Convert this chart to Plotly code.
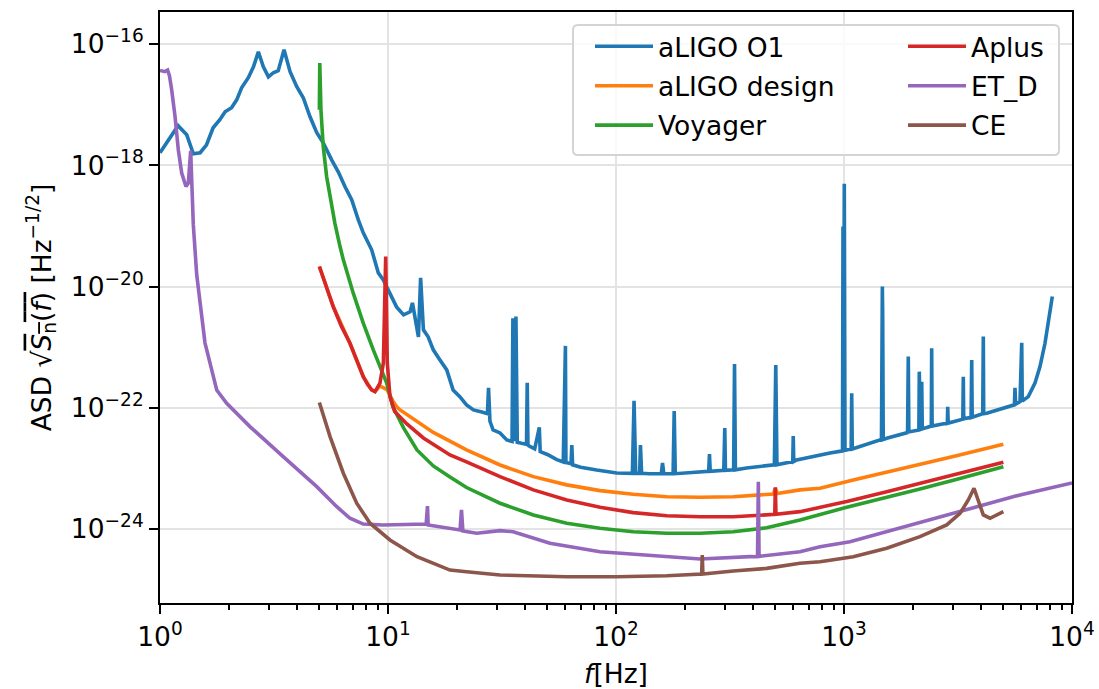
import plotly.graph_objects as go

# ---------------- detector noise curves (frequency in Hz, ASD in Hz^-1/2) ----------------
o1_freq = [
    1.00, 1.20, 1.31, 1.40, 1.50, 1.60, 1.71, 1.83, 1.93, 2.06,
    2.17, 2.28, 2.44, 2.57, 2.70, 2.84, 2.99, 3.14, 3.30, 3.50,
    3.72, 3.98, 4.25, 4.55, 4.87, 5.20, 5.66, 6.05, 6.48, 6.93,
    7.41, 7.79, 8.48, 9.07, 9.54, 10.2, 10.9, 11.7, 12.5, 12.8,
    13.1, 13.6, 13.9, 14.3, 15.0, 15.8, 16.9, 18.1, 19.3, 20.7,
    22.1, 23.7, 25.8, 27.3, 27.6, 28.0, 28.9, 31.0, 33.2, 35.0,
    35.3, 35.8, 36.4, 36.9, 38.5, 40.5, 40.8, 41.1, 44.0, 46.1,
    46.5, 50.0, 55.0, 58.7, 60.0, 60.3, 63.5, 64.0, 64.5, 70.0,
    82.3, 100.7, 118, 120, 122, 127, 128, 129.5, 140, 158,
    160, 162, 178, 180, 182, 226, 255, 257, 259, 297,
    300, 302, 328, 331, 334, 374, 495, 502, 508, 596,
    599, 602, 620, 868, 985, 990, 995, 1003, 1010, 1028,
    1075, 1081, 1087, 1460, 1473, 1478, 1486, 1539, 1900, 1914,
    1925, 2130, 2139, 2160, 2192, 2205, 2415, 2424, 2435, 2840,
    2850, 2865, 3016, 3320, 3336, 3350, 3610, 3632, 3650, 4060,
    4083, 4100, 4226, 5171, 5590, 5623, 5660, 5915, 6018, 6050,
    6432, 6880, 7238, 7613, 8008, 8197,
]
o1_asd = [
    1.61e-18, 4.49e-18, 3.18e-18, 1.55e-18, 1.61e-18, 2.18e-18, 4.16e-18, 5.64e-18, 7.64e-18, 8.89e-18,
    1.20e-17, 1.90e-17, 2.78e-17, 4.22e-17, 7.46e-17, 4.22e-17, 2.88e-17, 3.36e-17, 3.62e-17, 8.05e-17,
    3.49e-17, 1.97e-17, 1.30e-17, 6.31e-18, 3.44e-18, 2.35e-18, 1.23e-18, 7.81e-19, 4.42e-19, 2.70e-19,
    1.26e-19, 7.69e-20, 4.04e-20, 1.68e-20, 1.29e-20, 7.87e-21, 4.62e-21, 3.41e-21, 3.83e-21, 5.38e-21,
    3.16e-21, 1.48e-21, 1.39e-20, 1.93e-21, 1.48e-21, 9.04e-22, 6.17e-22, 4.22e-22, 1.97e-22, 1.51e-22,
    1.12e-22, 9.23e-23, 8.55e-23, 8.00e-23, 2.13e-22, 6.00e-23, 4.32e-23, 3.85e-23, 2.95e-23, 2.80e-23,
    3.00e-21, 2.80e-23, 3.20e-21, 2.70e-23, 2.60e-23, 2.50e-23, 2.58e-22, 2.40e-23, 2.10e-23, 4.77e-23,
    1.90e-23, 1.70e-23, 1.40e-23, 1.28e-23, 1.05e-21, 1.25e-23, 1.20e-23, 2.44e-23, 1.15e-23, 1.05e-23,
    9.44e-24, 8.43e-24, 8.30e-24, 1.30e-22, 8.30e-24, 8.30e-24, 2.44e-23, 8.30e-24, 8.20e-24, 8.20e-24,
    1.23e-23, 8.20e-24, 8.20e-24, 8.89e-23, 8.20e-24, 8.75e-24, 9.00e-24, 1.73e-23, 9.00e-24, 9.30e-24,
    4.66e-23, 9.30e-24, 9.50e-24, 5.30e-22, 9.50e-24, 1.02e-23, 1.15e-23, 5.10e-22, 1.15e-23, 1.30e-23,
    3.44e-23, 1.30e-23, 1.38e-23, 1.80e-23, 1.95e-23, 9.80e-20, 2.00e-23, 4.95e-19, 2.00e-23, 2.02e-23,
    2.10e-23, 1.74e-22, 2.10e-23, 3.00e-23, 1.00e-20, 3.60e-21, 3.00e-23, 3.15e-23, 3.90e-23, 7.00e-22,
    4.00e-23, 4.30e-23, 3.95e-22, 4.40e-23, 2.70e-22, 4.50e-23, 5.00e-23, 9.60e-22, 5.00e-23, 5.60e-23,
    1.04e-22, 5.60e-23, 5.91e-23, 6.50e-23, 3.24e-22, 6.60e-23, 7.00e-23, 6.17e-22, 7.00e-23, 8.00e-23,
    1.50e-21, 8.00e-23, 8.15e-23, 1.05e-22, 1.12e-22, 2.13e-22, 1.15e-22, 1.26e-22, 1.18e-21, 1.30e-22,
    1.53e-22, 2.55e-22, 4.79e-22, 1.16e-21, 3.64e-21, 6.84e-21,
]

design_freq = [
    5.0, 5.75, 6.81, 7.79, 8.48, 8.77, 9.22, 9.9, 10.5, 10.9,
    11.3, 15.8, 22.1, 31.0, 43.4, 60.8, 85.1, 119, 167, 234,
    327, 400, 490, 500, 510, 641, 785, 1098, 1539, 2154,
    3016, 5000,
]
design_asd = [
    2.14e-20, 4.68e-21, 1.16e-21, 3.27e-22, 1.97e-22, 1.85e-22, 2.30e-22, 2.00e-22, 1.30e-22, 1.05e-22,
    9.23e-23, 3.93e-23, 2.02e-23, 1.14e-23, 7.33e-24, 5.36e-24, 4.31e-24, 3.75e-24, 3.42e-24, 3.35e-24,
    3.42e-24, 3.66e-24, 3.80e-24, 4.71e-24, 3.85e-24, 4.43e-24, 4.71e-24, 6.46e-24, 8.65e-24, 1.16e-23,
    1.57e-23, 2.51e-23,
]

voyager_freq = [
    5.00, 5.02, 5.08, 5.20, 5.38, 5.66, 5.85, 6.16, 6.37, 7.04,
    7.79, 8.62, 9.22, 9.87, 10.5, 11.7, 13.4, 15.8, 18.7, 22.1,
    31.0, 43.4, 60.8, 85.1, 119, 167, 234, 327, 458, 641,
    1028, 1539, 2154, 3016, 5000,
]
voyager_asd = [
    8.2e-18, 4.85e-17, 8.2e-18, 2.04e-18, 6.53e-19, 2.09e-19, 1.10e-19, 4.57e-20, 2.76e-20, 7.78e-21,
    2.49e-21, 9.04e-22, 4.79e-22, 2.55e-22, 1.05e-22, 4.66e-23, 2.02e-23, 1.10e-23, 7.23e-24, 4.85e-24,
    2.67e-24, 1.71e-24, 1.25e-24, 1.03e-24, 9.06e-25, 8.53e-25, 8.53e-25, 9.06e-25, 1.05e-24, 1.41e-24,
    2.29e-24, 3.30e-24, 4.59e-24, 6.38e-24, 1.07e-23,
]

aplus_freq = [
    5.0, 5.37, 5.75, 6.25, 6.81, 7.29, 7.79, 8.13, 8.48, 8.77,
    9.22, 9.54, 9.77, 9.93, 10.2, 10.7, 12.1, 14.3, 18.7, 22.1,
    31.0, 43.4, 60.8, 85.1, 119, 167, 234, 327, 458, 497,
    500, 503, 641, 1028, 1539, 2154, 3016, 5000,
]
aplus_asd = [
    2.14e-20, 9.9e-21, 4.68e-21, 2.2e-21, 1.16e-21, 6.1e-22, 3.27e-22, 2.45e-22, 1.97e-22, 1.85e-22,
    2.55e-22, 5.45e-22, 3.13e-20, 5.45e-22, 1.53e-22, 8.65e-23, 5.42e-23, 3.18e-23, 1.67e-23, 1.28e-23,
    7.33e-24, 4.43e-24, 3.02e-24, 2.29e-24, 1.87e-24, 1.66e-24, 1.60e-24, 1.60e-24, 1.71e-24, 1.75e-24,
    4.90e-24, 1.75e-24, 1.94e-24, 2.84e-24, 4.14e-24, 5.70e-24, 7.82e-24, 1.26e-23,
]

etd_freq = [
    1.00, 1.05, 1.08, 1.10, 1.125, 1.164, 1.203, 1.245, 1.30, 1.331,
    1.363, 1.377, 1.40, 1.449, 1.50, 1.575, 1.686, 1.773, 1.961, 2.48,
    3.47, 4.87, 5.96, 6.81, 7.79, 9.5, 14.7, 14.9, 15.0, 20.7,
    21.0, 21.3, 24.5, 31.0, 35.4, 51.3, 85.1, 167, 234, 387,
    417.6, 421, 424, 641, 785, 1062, 1539, 3016, 5915, 10000,
]
etd_asd = [
    3.66e-17, 3.50e-17, 3.70e-17, 3.00e-17, 1.76e-17, 6.38e-18, 1.80e-18, 7.43e-19, 4.47e-19, 5.08e-19,
    1.73e-18, 5.08e-19, 1.04e-19, 1.56e-20, 4.99e-21, 1.18e-21, 4.22e-22, 1.97e-22, 1.19e-22, 4.90e-23,
    1.57e-23, 5.01e-24, 2.34e-24, 1.51e-24, 1.21e-24, 1.17e-24, 1.21e-24, 2.40e-24, 1.17e-24, 9.66e-25,
    2.07e-24, 9.31e-25, 8.53e-25, 9.42e-25, 9.06e-25, 5.83e-25, 4.24e-25, 3.51e-25, 3.21e-25, 3.51e-25,
    3.50e-25, 6.05e-24, 3.55e-25, 4.24e-25, 5.13e-25, 6.19e-25, 9.06e-25, 1.82e-24, 3.66e-24, 5.77e-24,
]

ce_freq = [
    5.0, 5.57, 6.37, 7.29, 8.34, 10.2, 13.4, 15.8, 18.7, 22.1,
    31.0, 60.8, 100.7, 167, 234, 237.5, 239, 240.5, 327, 458,
    641, 785, 1098, 1539, 2154, 2821, 3228, 3509, 3717, 3882,
    4083, 4369, 4676, 5000,
]
ce_asd = [
    1.22e-22, 3.35e-23, 8.34e-24, 2.67e-24, 1.25e-24, 6.61e-25, 3.51e-25, 2.73e-25, 2.11e-25, 1.98e-25,
    1.75e-25, 1.64e-25, 1.64e-25, 1.70e-25, 1.82e-25, 1.82e-25, 3.74e-25, 1.82e-25, 2.04e-25, 2.25e-25,
    2.73e-25, 2.90e-25, 3.51e-25, 4.82e-25, 7.50e-25, 1.17e-24, 1.82e-24, 3.02e-24, 4.71e-24, 3.02e-24,
    1.71e-24, 1.51e-24, 1.71e-24, 1.94e-24,
]

x_tick_vals = [1, 10, 100, 1000, 10000]
x_tick_text = ["10<sup>0</sup>", "10<sup>1</sup>", "10<sup>2</sup>", "10<sup>3</sup>", "10<sup>4</sup>"]
y_tick_vals = [1e-24, 1e-22, 1e-20, 1e-18, 1e-16]
y_tick_text = ["10<sup>\u221224</sup>", "10<sup>\u221222</sup>", "10<sup>\u221220</sup>",
               "10<sup>\u221218</sup>", "10<sup>\u221216</sup>"]

# ---------------- figure ----------------
W, H = 1099, 689
ML, MR, MT, MB = 160, 27, 12, 86
FONT = "DejaVu Sans"
FS = 26.5
LW = 3.6

series = [
    ("aLIGO O1", o1_freq, o1_asd, "#1f77b4", "legend"),
    ("aLIGO design", design_freq, design_asd, "#ff7f0e", "legend"),
    ("Voyager", voyager_freq, voyager_asd, "#2ca02c", "legend"),
    ("Aplus", aplus_freq, aplus_asd, "#d62728", "legend2"),
    ("ET_D", etd_freq, etd_asd, "#9467bd", "legend2"),
    ("CE", ce_freq, ce_asd, "#8c564b", "legend2"),
]

fig = go.Figure()
for name, f, a, color, leg in series:
    fig.add_trace(go.Scatter(
        x=f, y=a, mode="lines", name=name,
        line=dict(color=color, width=LW),
        legend=leg, legendgroup=name,
    ))


def px_x(px):
    return (px - ML) / (W - ML - MR)


def px_y(py):
    return 1 - (py - MT) / (H - MT - MB)


# rounded legend frame spanning both legend columns
x0, x1, y0, y1, r = 573, 1059, 25, 155, 5
frame = (
    f"M {px_x(x0 + r)},{px_y(y0)} L {px_x(x1 - r)},{px_y(y0)} "
    f"Q {px_x(x1)},{px_y(y0)} {px_x(x1)},{px_y(y0 + r)} L {px_x(x1)},{px_y(y1 - r)} "
    f"Q {px_x(x1)},{px_y(y1)} {px_x(x1 - r)},{px_y(y1)} L {px_x(x0 + r)},{px_y(y1)} "
    f"Q {px_x(x0)},{px_y(y1)} {px_x(x0)},{px_y(y1 - r)} L {px_x(x0)},{px_y(y0 + r)} "
    f"Q {px_x(x0)},{px_y(y0)} {px_x(x0 + r)},{px_y(y0)} Z"
)
fig.add_shape(type="path", path=frame, xref="paper", yref="paper", layer="above",
              fillcolor="rgba(255,255,255,0.8)", line=dict(color="#d4d4d4", width=2))

legend_common = dict(
    xanchor="left", yanchor="top", bgcolor="rgba(0,0,0,0)", borderwidth=0,
    font=dict(family=FONT, size=FS, color="black"), tracegroupgap=2,
    itemwidth=58,
)

axis_common = dict(
    type="log", showline=True, linecolor="black", linewidth=2, mirror=True,
    ticks="outside", ticklen=9, tickwidth=2, tickcolor="black",
    tickfont=dict(family=FONT, size=FS, color="black"),
    showgrid=True, gridcolor="#e3e3e3", gridwidth=2, zeroline=False,
    tickmode="array", automargin=False,
)

minor_x = [m * 10 ** d for d in range(4) for m in range(2, 10)]

fig.update_layout(
    width=W, height=H,
    margin=dict(l=ML, r=MR, t=MT, b=MB, autoexpand=False),
    paper_bgcolor="white", plot_bgcolor="white",
    font=dict(family=FONT, size=FS, color="black"),
    xaxis=dict(
        axis_common, range=[0, 4], tickvals=x_tick_vals, ticktext=x_tick_text,
        minor=dict(tickvals=minor_x, ticks="outside", ticklen=5, tickwidth=1.5,
                   tickcolor="black", showgrid=False),
        title=dict(text="<i>f</i>[Hz]", font=dict(family=FONT, size=FS), standoff=16),
    ),
    yaxis=dict(
        axis_common, range=[-25.219, -15.472], tickvals=y_tick_vals, ticktext=y_tick_text,
        title=dict(
            text='ASD \u221a<span style="text-decoration:overline"><i>S</i><sub>n</sub>(<i>f</i>)</span>'
                 ' [Hz<sup>\u22121/2</sup>]',
            font=dict(family=FONT, size=FS), standoff=12,
        ),
    ),
    legend=dict(legend_common, x=px_x(590), y=px_y(22.5)),
    legend2=dict(legend_common, x=px_x(903), y=px_y(22.5)),
)

fig.write_html("out.html")
